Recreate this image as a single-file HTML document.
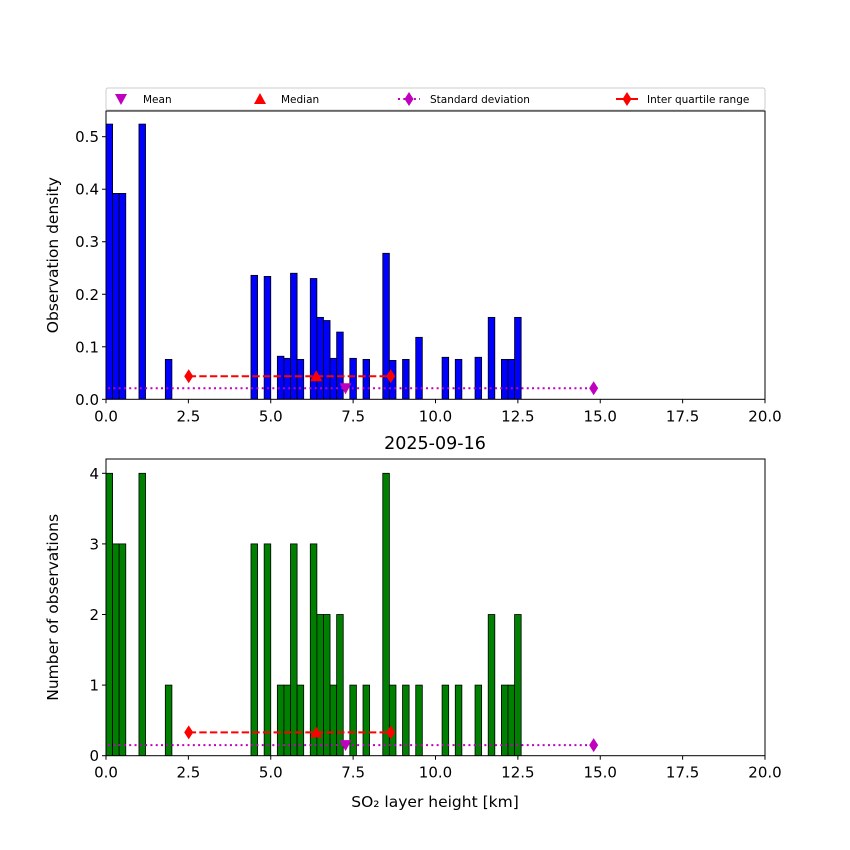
<!DOCTYPE html>
<html><head><meta charset="utf-8"><style>
body{margin:0;background:#fff}
svg{display:block;font-family:"DejaVu Sans","Liberation Sans",sans-serif}
</style></head><body>
<svg id="fig" width="850" height="850" viewBox="0 0 850 850"></svg>
<script>
const binLeft=[0,0.2,0.4,1.0,1.8,4.4,4.8,5.2,5.4,5.6,5.8,6.2,6.4,6.6,6.8,7.0,7.4,7.8,8.4,8.6,9.0,9.4,10.2,10.6,11.2,11.6,12.0,12.2,12.4];
const counts=[4,3,3,4,1,3,3,1,1,3,1,3,2,2,1,2,1,1,4,1,1,1,1,1,1,2,1,1,2];
const densities=[0.524,0.392,0.392,0.524,0.076,0.236,0.234,0.082,0.078,0.240,0.076,0.230,0.156,0.150,0.078,0.128,0.078,0.076,0.278,0.074,0.076,0.118,0.080,0.076,0.080,0.156,0.076,0.076,0.156];
const binWidth=0.2;
const meanVal=7.27, medianVal=6.38, stdVal=7.53, q1=2.51, q3=8.64;
const xTicks=[0,2.5,5,7.5,10,12.5,15,17.5,20];
const yTicksTop=[0,0.1,0.2,0.3,0.4,0.5];
const yTicksBot=[0,1,2,3,4];
const topStatY={iqr:0.044,std:0.021}, botStatY={iqr:0.33,std:0.15};

const NS="http://www.w3.org/2000/svg";
const svg=document.getElementById('fig');
function el(tag,attrs,parent,text){const e=document.createElementNS(NS,tag);for(const k in attrs)e.setAttribute(k,attrs[k]);if(text!==undefined)e.textContent=text;(parent||svg).appendChild(e);return e;}
const X0=106,X1=765;
const xs=v=>X0+(X1-X0)*v/20;

function panel(name,top,bottom,ymax,vals,color,ticks,fmt,ylabel,stat){
  const ys=v=>bottom-(bottom-top)*v/ymax;
  const g=el('g',{},svg);
  
  
  const cid='clip-'+name;
  const cp=el('clipPath',{id:cid},g);el('rect',{x:X0,y:top,width:X1-X0,height:bottom-top},cp);
  const bars=el('g',{'clip-path':`url(#${cid})`},g);
  binLeft.forEach((b,i)=>{
    const r=el('rect',{x:xs(b),y:ys(vals[i]),width:xs(b+binWidth)-xs(b),height:ys(0)-ys(vals[i]),fill:color,stroke:'#000','stroke-width':0.8},bars);
    
    
  });
  const sy=ys(stat.std), iy=ys(stat.iqr);
  const sl=el('line',{x1:xs(meanVal-stdVal),x2:xs(meanVal+stdVal),y1:sy,y2:sy,stroke:'#bf00bf','stroke-width':2,'stroke-dasharray':'2 3.3'},bars);
  
  [meanVal-stdVal,meanVal+stdVal].forEach(v=>el('path',{d:diamond(xs(v),sy),fill:'#bf00bf'},bars));
  const il=el('line',{x1:xs(q1),x2:xs(q3),y1:iy,y2:iy,stroke:'red','stroke-width':2,'stroke-dasharray':'7.4 3.2'},bars);
  
  [q1,q3].forEach(v=>el('path',{d:diamond(xs(v),iy),fill:'red'},bars));
  const md=el('path',{d:`M${xs(medianVal)-6},${iy+5} L${xs(medianVal)+6},${iy+5} L${xs(medianVal)},${iy-6} Z`,fill:'red'},bars);
  
  const mn=el('path',{d:`M${xs(meanVal)-6},${sy-5} L${xs(meanVal)+6},${sy-5} L${xs(meanVal)},${sy+6} Z`,fill:'#bf00bf'},bars);
  
  el('rect',{x:X0,y:top,width:X1-X0,height:bottom-top,fill:'none',stroke:'#000','stroke-width':1},g);
  xTicks.forEach(t=>{const x=xs(t);el('line',{x1:x,x2:x,y1:bottom,y2:bottom+4,stroke:'#000'},g);
    const tl=el('text',{x:x,y:bottom+22,'text-anchor':'middle','font-size':15},g,t.toFixed(1));
    });
  ticks.forEach(t=>{const y=ys(t);el('line',{x1:X0-4,x2:X0,y1:y,y2:y,stroke:'#000'},g);
    const tl=el('text',{x:X0-7,y:y+5.5,'text-anchor':'end','font-size':15},g,fmt(t));
    });
  const yl=el('text',{x:0,y:0,transform:`translate(58,${(top+bottom)/2}) rotate(-90)`,'text-anchor':'middle','font-size':15.5},g,ylabel);
  
}
function diamond(x,y){return `M${x},${y-7} L${x+4.5},${y} L${x},${y+7} L${x-4.5},${y} Z`;}

panel('density-panel',111,399.3,0.5/((399.3-136.7)/(399.3-111)),densities,'#0000ff',yTicksTop,t=>t.toFixed(1),'Observation density',topStatY);
panel('count-panel',459,755.7,4/((755.7-473.3)/(755.7-459)),counts,'#008000',yTicksBot,t=>String(t),'Number of observations',botStatY);

const title=el('text',{x:435,y:449,'text-anchor':'middle','font-size':17.5},svg,'2025-09-16');

const xl=el('text',{x:435,y:807,'text-anchor':'middle','font-size':15.5},svg,'SO₂ layer height [km]');


const lg=el('g',{},svg);

el('rect',{x:106,y:88,width:659,height:22,fill:'#fff',stroke:'#ccc','stroke-width':1,rx:2},lg);
const ly=99;
el('path',{d:`M115,${ly-5} L127,${ly-5} L121,${ly+6} Z`,fill:'#bf00bf'},lg);
el('text',{x:143,y:ly+4,'font-size':10.5},lg,'Mean');
el('path',{d:`M254,${ly+5} L266,${ly+5} L260,${ly-6} Z`,fill:'red'},lg);
el('text',{x:281,y:ly+4,'font-size':10.5},lg,'Median');
el('line',{x1:398,x2:420,y1:ly,y2:ly,stroke:'#bf00bf','stroke-width':2,'stroke-dasharray':'2 3.3'},lg);
el('path',{d:diamond(409,ly),fill:'#bf00bf'},lg);
el('text',{x:430,y:ly+4,'font-size':10.5},lg,'Standard deviation');
el('line',{x1:616,x2:638,y1:ly,y2:ly,stroke:'red','stroke-width':2},lg);
el('path',{d:diamond(627,ly),fill:'red'},lg);
el('text',{x:647,y:ly+4,'font-size':10.5},lg,'Inter quartile range');
</script>
</body></html>
